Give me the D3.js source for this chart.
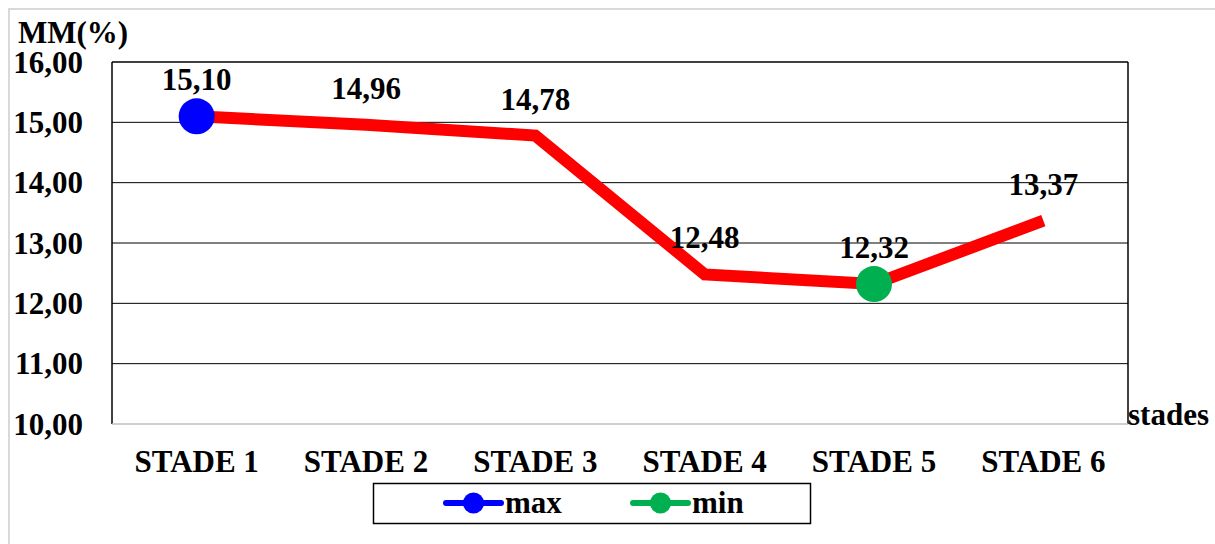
<!DOCTYPE html>
<html>
<head>
<meta charset="utf-8">
<script src="https://cdn.jsdelivr.net/npm/d3@7"></script>
<style>
  html, body { margin: 0; padding: 0; background: #fff; overflow: hidden; }
  svg { display: block; }
  svg text { font-family: "Liberation Serif", "Times New Roman", serif; font-weight: bold; fill: #000; }
</style>
</head>
<body>
<svg id="chart" width="1215" height="544" font-family="Liberation Serif" font-weight="bold"></svg>
<script>
const stages = ["STADE 1", "STADE 2", "STADE 3", "STADE 4", "STADE 5", "STADE 6"];
const mmValues = [15.10, 14.96, 14.78, 12.48, 12.32, 13.37];
const yTicks = [10, 11, 12, 13, 14, 15, 16];
const maxStage = "STADE 1";
const minStage = "STADE 5";
const legendItems = [{name: "max", color: "#0000ff"}, {name: "min", color: "#00b050"}];

const svg = d3.select("#chart");
const plotLeft = 112, plotRight = 1128, plotTop = 62, plotBottom = 424;
const fmt = v => v.toFixed(2).replace(".", ",");

// outer frame (clipped by window on right/bottom)
svg.append("rect")
    .attr("x", 9).attr("y", 9)
    .attr("width", 1230).attr("height", 560)
    .attr("fill", "none")
    .attr("stroke", "#d9d9d9")
    .attr("stroke-width", 2);

const x = d3.scaleBand().domain(stages).range([plotLeft, plotRight]);
const y = d3.scaleLinear().domain([10, 16]).range([plotBottom, plotTop]);

// gridlines
svg.append("g")
    .selectAll("line")
    .data(yTicks.filter(t => t > 10 && t < 16))
    .enter()
    .append("line")
    .attr("x1", plotLeft).attr("x2", plotRight)
    .attr("y1", d => y(d)).attr("y2", d => y(d))
    .attr("stroke", "#000")
    .attr("stroke-width", 1);

// plot border
svg.append("line").attr("x1", plotLeft).attr("x2", plotRight).attr("y1", plotTop).attr("y2", plotTop)
    .attr("stroke", "#000").attr("stroke-width", 1.5);
svg.append("line").attr("x1", plotLeft).attr("x2", plotLeft).attr("y1", plotTop).attr("y2", plotBottom)
    .attr("stroke", "#000").attr("stroke-width", 1.5);
svg.append("line").attr("x1", plotRight).attr("x2", plotRight).attr("y1", plotTop).attr("y2", plotBottom)
    .attr("stroke", "#000").attr("stroke-width", 1.5);
svg.append("line").attr("x1", plotLeft).attr("x2", plotRight).attr("y1", plotBottom).attr("y2", plotBottom)
    .attr("stroke", "#bfbfbf").attr("stroke-width", 1.5);

// y axis labels
const yAxis = svg.append("g")
    .attr("transform", `translate(${plotLeft - 29},0)`)
    .call(d3.axisLeft(y).tickValues(yTicks).tickFormat(fmt).tickSize(0).tickPadding(0));
yAxis.attr("font-family", "Liberation Serif").attr("font-size", 31);
yAxis.select(".domain").remove();
yAxis.selectAll("text")
    .attr("dy", "0.33em");

// x axis labels
const xAxis = svg.append("g")
    .attr("transform", `translate(0,${plotBottom + 48})`)
    .call(d3.axisBottom(x).tickSize(0).tickPadding(0));
xAxis.attr("font-family", "Liberation Serif").attr("font-size", 31);
xAxis.select(".domain").remove();
xAxis.selectAll("text")
    .attr("dy", 0);

// axis titles
svg.append("text").attr("x", 18).attr("y", 43).attr("font-size", 31).text("MM(%)");
svg.append("text").attr("x", 1128).attr("y", 425).attr("font-size", 31).text("stades");

// line
const points = stages.map((s, i) => ({stage: s, value: mmValues[i]}));
const line = d3.line()
    .x(d => x(d.stage) + x.bandwidth() / 2)
    .y(d => y(d.value));

svg.append("path")
    .datum(points)
    .attr("d", line)
    .attr("fill", "none")
    .attr("stroke", "#ff0000")
    .attr("stroke-width", 12)
    .attr("stroke-linejoin", "miter");

// max / min markers
const markers = [
    {stage: maxStage, color: legendItems[0].color},
    {stage: minStage, color: legendItems[1].color}
];
svg.selectAll(".marker")
    .data(markers)
    .enter()
    .append("circle")
    .attr("class", "marker")
    .attr("cx", d => x(d.stage) + x.bandwidth() / 2)
    .attr("cy", d => y(mmValues[stages.indexOf(d.stage)]))
    .attr("r", 18)
    .attr("fill", d => d.color);

// data labels
svg.selectAll(".dlabel")
    .data(points)
    .enter()
    .append("text")
    .attr("class", "dlabel")
    .attr("x", d => x(d.stage) + x.bandwidth() / 2)
    .attr("y", d => y(d.value) - 26)
    .attr("text-anchor", "middle")
    .attr("font-size", 31)
    .text(d => fmt(d.value));

// legend
svg.append("rect")
    .attr("x", 373.5).attr("y", 483.5)
    .attr("width", 437).attr("height", 40)
    .attr("fill", "#fff")
    .attr("stroke", "#000")
    .attr("stroke-width", 1.5);

const legendX = [446, 633];
const lg = svg.selectAll(".legend")
    .data(legendItems)
    .enter()
    .append("g")
    .attr("class", "legend")
    .attr("transform", (d, i) => `translate(${legendX[i]},503)`);
lg.append("line")
    .attr("x1", 0).attr("x2", 55)
    .attr("y1", 0).attr("y2", 0)
    .attr("stroke", d => d.color)
    .attr("stroke-width", 6)
    .attr("stroke-linecap", "round");
lg.append("circle")
    .attr("cx", 27.5).attr("cy", 0)
    .attr("r", 10.5)
    .attr("fill", d => d.color);
lg.append("text")
    .attr("x", 59).attr("y", 10)
    .attr("font-size", 31)
    .text(d => d.name);
</script>
</body>
</html>
